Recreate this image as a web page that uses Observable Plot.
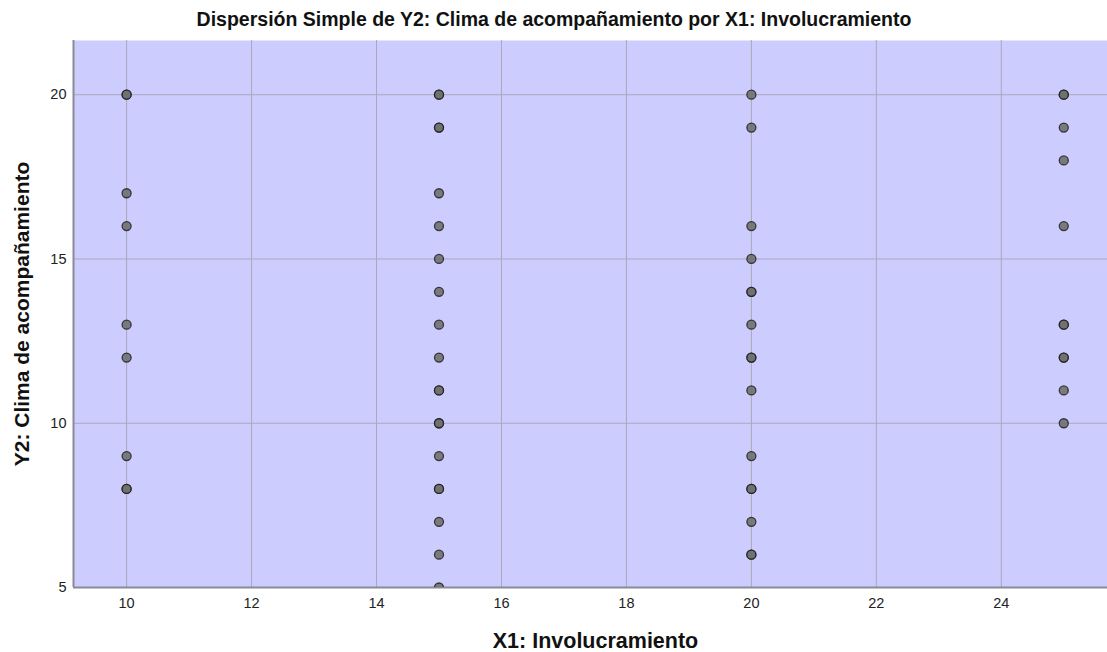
<!DOCTYPE html>
<html>
<head>
<meta charset="utf-8">
<script src="https://cdn.jsdelivr.net/npm/d3@7"></script>
<script src="https://cdn.jsdelivr.net/npm/@observablehq/plot@0.6"></script>
<style>
  body { margin: 0; background: #fff; }
  svg { display: block; }
</style>
</head>
<body>
<div id="chart"></div>
<script>
const title = "Dispersión Simple de Y2: Clima de acompañamiento por X1: Involucramiento";
const xLabel = "X1: Involucramiento";
const yLabel = "Y2: Clima de acompañamiento";
const xTicks = [10, 12, 14, 16, 18, 20, 22, 24];
const yTicks = [5, 10, 15, 20];

// Y2 values observed at each X1 level (repeated values = overlapping cases)
const x1Levels = [10, 15, 20, 25];
const y2At10 = [20, 20, 17, 16, 13, 12, 9, 8, 8];
const y2At15 = [20, 20, 19, 19, 17, 16, 15, 14, 13, 12, 11, 11, 10, 10, 9, 8, 8, 7, 6, 5];
const y2At20 = [20, 19, 16, 15, 14, 14, 13, 12, 12, 11, 9, 8, 8, 7, 6, 6];
const y2At25 = [20, 20, 19, 18, 16, 13, 13, 12, 12, 11, 10];

const groups = [y2At10, y2At15, y2At20, y2At25];
const data = groups.flatMap((ys, i) => ys.map(y => ({x: x1Levels[i], y})));

const xDomain = [9.15, 25.7];
const yDomain = [5, 21.65];
const font = "'Liberation Sans', Arial, sans-serif";

const chart = Plot.plot({
  width: 1107,
  height: 652,
  marginLeft: 73,
  marginRight: 0,
  marginTop: 40,
  marginBottom: 65,
  style: {fontFamily: font, fontSize: "14.5px", color: "#222", background: "#fff"},
  x: {domain: xDomain, ticks: xTicks, tickSize: 0, tickPadding: 10, label: null,
      tickFormat: d => String(d)},
  y: {domain: yDomain, ticks: yTicks, tickSize: 0, tickPadding: 7, label: null,
      tickFormat: d => String(d)},
  marks: [
    Plot.frame({fill: "#ccccff", stroke: null}),
    Plot.gridX(xTicks, {stroke: "#a9a9b8", strokeOpacity: 1, strokeWidth: 1}),
    Plot.gridY(yTicks, {stroke: "#a9a9b8", strokeOpacity: 1, strokeWidth: 1}),
    Plot.ruleY([yDomain[0]], {stroke: "#8a8a96", strokeWidth: 2}),
    Plot.ruleX([xDomain[0]], {stroke: "#8a8a96", strokeWidth: 2}),
    Plot.dot(data, {x: "x", y: "y", r: 4.5, fill: "#707070", fillOpacity: 0.9,
      stroke: "#1a1a1a", strokeWidth: 1.3, strokeOpacity: 0.8, clip: true}),
    Plot.text([title], {frameAnchor: "top", lineAnchor: "middle", textAnchor: "middle",
      dx: -36.5, dy: -21, fontSize: 19.5, fontWeight: "bold", fill: "#111", fontFamily: font}),
    Plot.text([xLabel], {frameAnchor: "bottom", lineAnchor: "middle", textAnchor: "middle",
      dx: 5, dy: 54, fontSize: 21.5, fontWeight: "bold", fill: "#111", fontFamily: font}),
    Plot.text([yLabel], {frameAnchor: "left", lineAnchor: "middle", textAnchor: "middle",
      dx: -51, rotate: -90, fontSize: 21, fontWeight: "bold", fill: "#111", fontFamily: font})
  ]
});
document.getElementById("chart").appendChild(chart);
</script>
</body>
</html>
